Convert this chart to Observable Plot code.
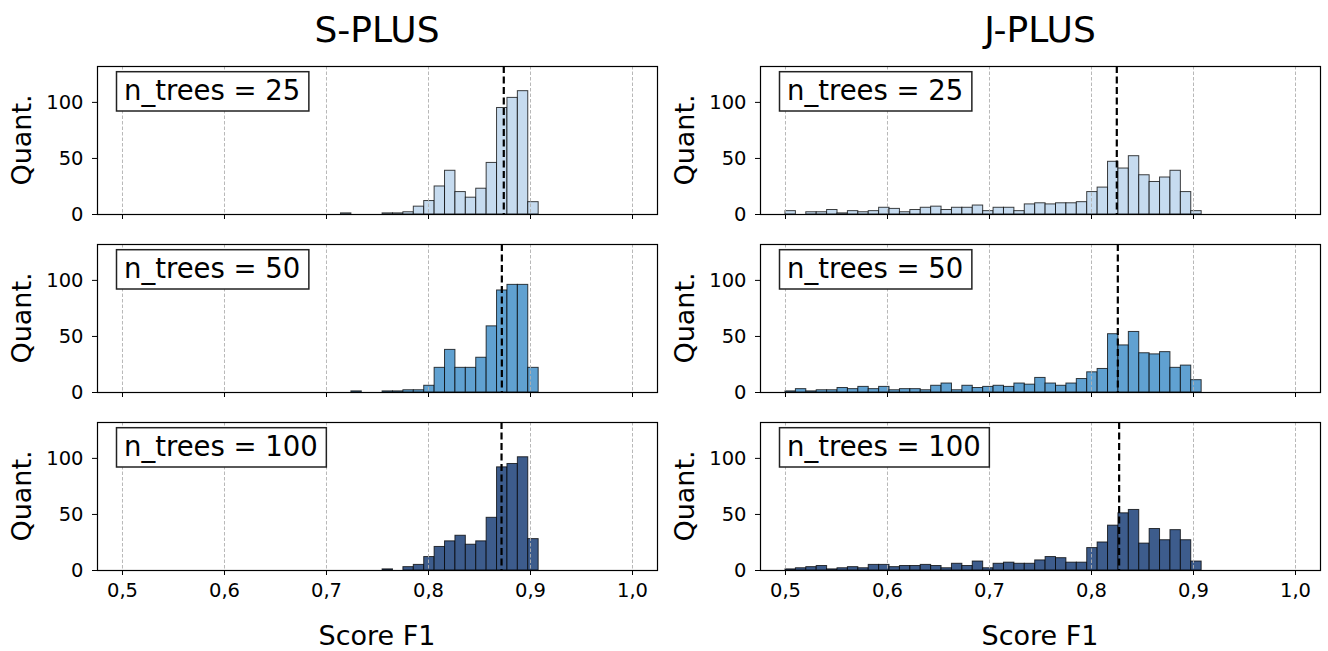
<!DOCTYPE html>
<html><head><meta charset="utf-8">
<script src="https://cdn.jsdelivr.net/npm/d3@7"></script>
<script src="https://cdn.jsdelivr.net/npm/@observablehq/plot@0.6"></script>
<style>
body{margin:0;background:#fff;font-family:"DejaVu Sans",sans-serif;}
#chart{position:relative;width:1328px;height:651px;overflow:hidden;background:#fff;}
#chart svg.panel{position:absolute;}
#overlay{position:absolute;left:0;top:0;pointer-events:none;}
</style></head><body><div id="chart"></div>
<script>
// ---- data ----
const surveys = ["S-PLUS", "J-PLUS"];
const nTrees = [25, 50, 100];
const binStart = 0.5;
const binWidth = 0.0102;
const xTicks = [0.5, 0.6, 0.7, 0.8, 0.9, 1.0];
const yTicks = [0, 50, 100];

// histogram counts, 40 bins from 0.5
const splus25  = [0,0,0,0,0,0,0,0,0,0, 0,0,0,0,0,0,0,0,0,0, 0,1,0,0,0,1,1,2,7,12, 25,39,20,15,23,46,95,104,110,11];
const splus50  = [0,0,0,0,0,0,0,0,0,0, 0,0,0,0,0,0,0,0,0,0, 0,0,1,0,0,1,1,2,2,6, 22,38,22,22,31,59,91,96,96,22];
const splus100 = [0,0,0,0,0,0,0,0,0,0, 0,0,0,0,0,0,0,0,0,0, 0,0,0,0,0,1,0,3,5,12, 21,26,31,23,26,47,92,95,101,28];
const jplus25  = [3,0,2,2,4,1,3,2,3,6, 5,2,4,6,7,4,6,6,8,3, 6,6,3,9,10,9,10,10,11,20, 24,47,41,52,35,29,33,39,20,3];
const jplus50  = [1,3,1,2,2,4,3,5,3,5, 2,3,3,2,6,8,2,6,4,5, 6,5,8,7,13,8,6,8,12,18, 21,52,42,54,35,34,36,22,24,11];
const jplus100 = [1,2,3,4,1,2,3,2,5,5, 3,4,4,5,4,2,6,4,8,2, 6,7,6,6,9,12,11,7,7,20, 25,40,51,54,24,37,27,36,27,8];

const splusMedian = [0.8738, 0.8719, 0.8716];
const jplusMedian = [0.8248, 0.8258, 0.8271];

// ---- layout / style ----
const counts = [[splus25, splus50, splus100], [jplus25, jplus50, jplus100]];
const medians = [splusMedian, jplusMedian];
const fills = ["#c6dbef", "#60a1d1", "#3d5c8c"];
const colLeft = [97, 760];
const rowTop = [66, 244, 422];
const frameW = 560, frameH = 148;
const chart = document.getElementById("chart");
const fmt = d => d.toFixed(1).replace(".", ",");

surveys.forEach((s, col) => {
  nTrees.forEach((n, row) => {
    const bins = counts[col][row]
      .map((c, i) => ({x1: binStart + i * binWidth, x2: binStart + (i + 1) * binWidth, count: c}))
      .filter(d => d.count > 0);
    const bottom = row === 2;
    const mL = 100, mR = 10, mT = 10, mB = bottom ? 80 : 10;
    const svg = Plot.plot({
      width: mL + frameW + mR,
      height: mT + frameH + mB,
      marginLeft: mL, marginRight: mR, marginTop: mT, marginBottom: mB,
      x: {domain: [0.4755, 1.0245]},
      y: {domain: [0, 132]},
      style: {fontFamily: "DejaVu Sans", background: "transparent", overflow: "visible", color: "#000"},
      marks: [
        Plot.rectY(bins, {x1: "x1", x2: "x2", y: "count", fill: fills[row], stroke: "#000", strokeOpacity: 0.75, strokeWidth: 1}),
        Plot.ruleX(xTicks, {stroke: "#b0b0b0", strokeWidth: 0.9, strokeDasharray: "3.5,2"}),
        Plot.ruleX([medians[col][row]], {stroke: "#000", strokeWidth: 2.2, strokeDasharray: "7,3.5"}),
        Plot.frame({stroke: "#000", strokeWidth: 1.2}),
        Plot.axisY({ticks: yTicks, tickSize: 5, tickPadding: 9, fontSize: 19.5, label: null}),
        Plot.axisX({ticks: xTicks, tickSize: 5, tickPadding: 8, fontSize: 19.5, label: null,
                    tickFormat: fmt, fill: bottom ? "currentColor" : "none"})
      ]
    });
    svg.classList.add("panel");
    svg.style.left = (colLeft[col] - mL) + "px";
    svg.style.top = (rowTop[row] - mT) + "px";
    chart.appendChild(svg);
  });
});

// ---- overlay texts ----
const ov = d3.select("#chart").append("svg").attr("id", "overlay")
  .attr("width", 1328).attr("height", 651)
  .style("font-family", "DejaVu Sans");
surveys.forEach((s, col) => {
  const L = colLeft[col];
  ov.append("text").attr("x", L + frameW / 2).attr("y", 42).attr("text-anchor", "middle")
    .attr("font-size", 36).attr("fill", "#000").text(s);
  ov.append("text").attr("x", L + frameW / 2).attr("y", 645).attr("text-anchor", "middle")
    .attr("font-size", 27).attr("fill", "#000").text("Score F1");
  nTrees.forEach((n, row) => {
    const T = rowTop[row];
    ov.append("text").attr("transform", `translate(${L - 66},${T + frameH / 2}) rotate(-90)`)
      .attr("text-anchor", "middle").attr("font-size", 27).attr("fill", "#000").text("Quant.");
    const g = ov.append("g");
    const rect = g.append("rect");
    const t = g.append("text").attr("x", L + 27).attr("y", T + 33.5)
      .attr("font-size", 27.5).attr("fill", "#000").text(`n_trees = ${n}`);
    const w = t.node().getComputedTextLength();
    rect.attr("x", L + 19.5).attr("y", T + 5.7).attr("width", w + 16).attr("height", 39.3)
      .attr("fill", "#fff").attr("stroke", "#222").attr("stroke-width", 1.5);
  });
});
</script></body></html>
